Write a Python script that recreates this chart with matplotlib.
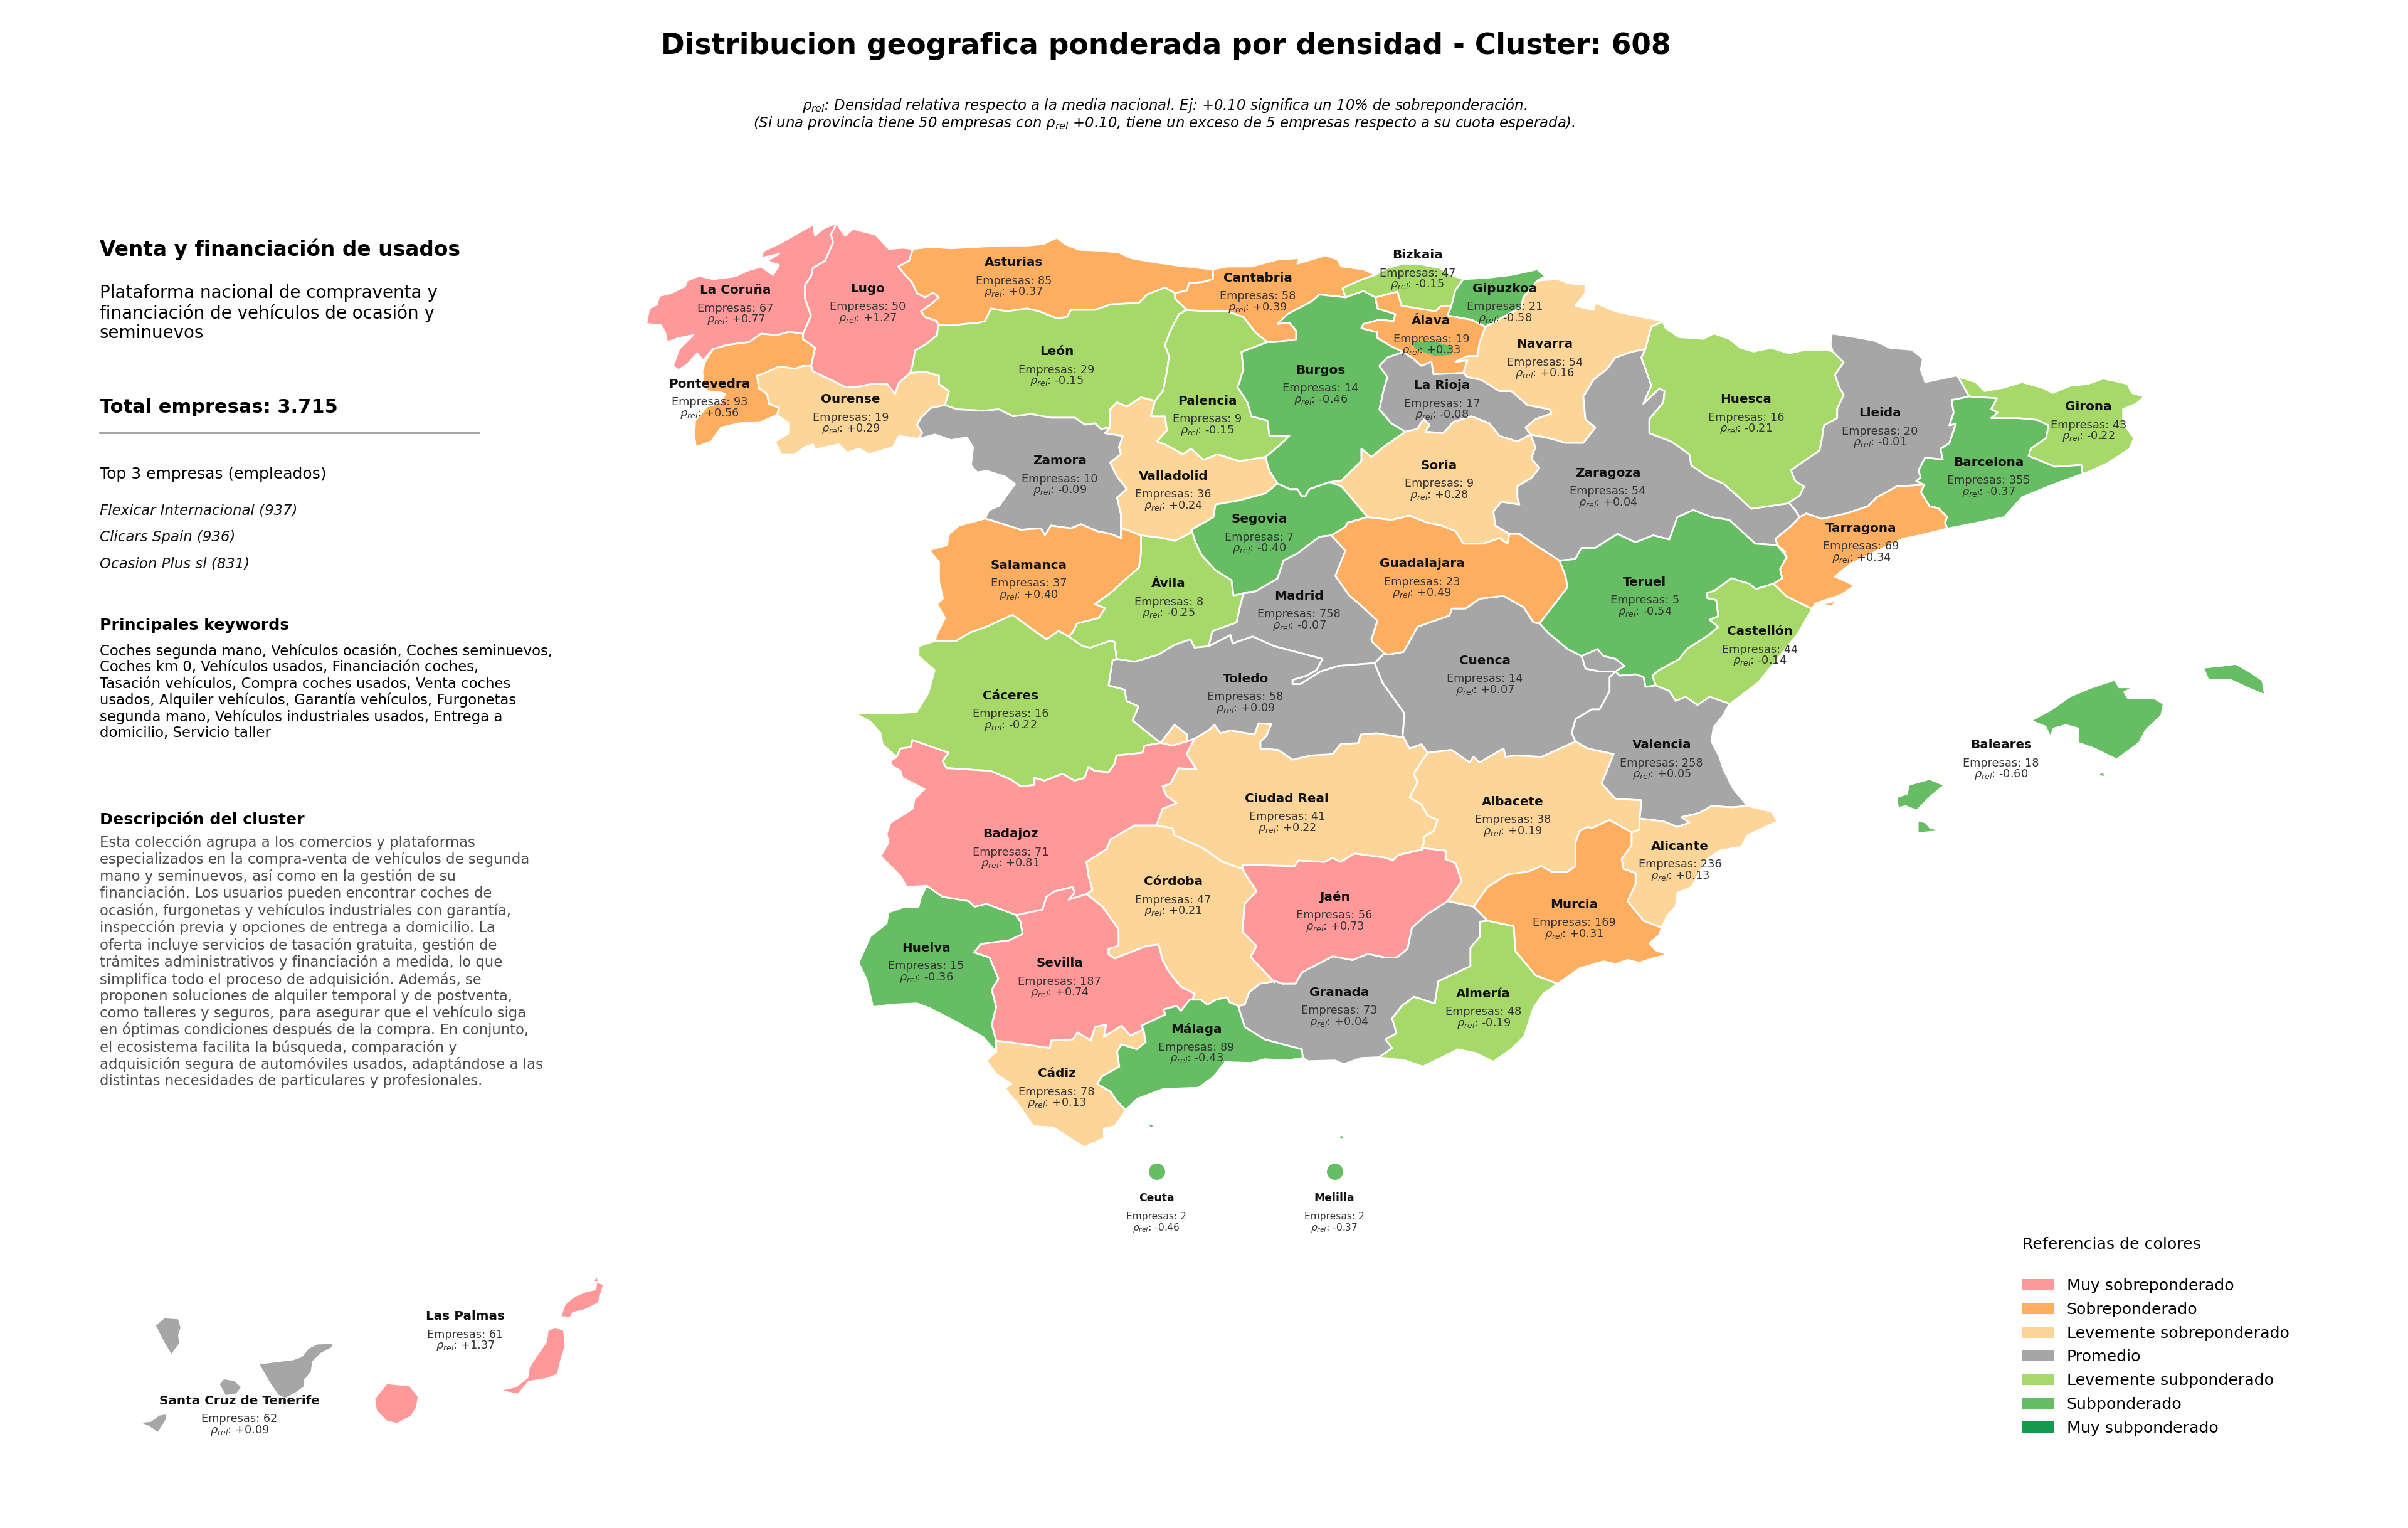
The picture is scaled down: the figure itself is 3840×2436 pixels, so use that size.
import matplotlib
matplotlib.use('Agg')
import matplotlib.pyplot as plt
from matplotlib.patches import Polygon, Circle, Patch


def crop(x0, y0, sx, sy):
    return lambda pts: [(x0 + x / sx, y0 + y / sy) for x, y in pts]


z1 = crop(1000, 320, 1.568, 2.24)
z2 = crop(1900, 320, 1.568, 2.24)
z3 = crop(2600, 480, 1.4255, 1.742)
z4 = crop(1350, 950, 1.568, 2.24)
z5 = crop(2200, 950, 1.568, 2.24)
z6 = crop(1350, 1400, 1.4255, 2.529)
z7 = crop(200, 2000, 1.845, 3)

TITLE = 'Distribucion geografica ponderada por densidad - Cluster: 608'
NOTE_1 = r'$\rho_{rel}$: Densidad relativa respecto a la media nacional. Ej: +0.10 significa un 10% de sobreponderación.'
NOTE_2 = r'(Si una provincia tiene 50 empresas con $\rho_{rel}$ +0.10, tiene un exceso de 5 empresas respecto a su cuota esperada).'

PROVINCES = ['La Coruña', 'Lugo', 'Asturias', 'Cantabria', 'Bizkaia', 'Gipuzkoa', 'Álava', 'Navarra',
             'Pontevedra', 'Ourense', 'León', 'Palencia', 'Burgos', 'La Rioja', 'Huesca', 'Lleida',
             'Girona', 'Zamora', 'Soria', 'Zaragoza', 'Barcelona', 'Valladolid', 'Segovia', 'Salamanca',
             'Ávila', 'Madrid', 'Guadalajara', 'Teruel', 'Tarragona', 'Castellón', 'Cáceres', 'Toledo',
             'Cuenca', 'Baleares', 'Valencia', 'Badajoz', 'Ciudad Real', 'Albacete', 'Alicante', 'Córdoba',
             'Jaén', 'Murcia', 'Huelva', 'Sevilla', 'Granada', 'Almería', 'Málaga', 'Cádiz',
             'Ceuta', 'Melilla', 'Las Palmas', 'Santa Cruz de Tenerife']
EMPRESAS = [67, 50, 85, 58, 47, 21, 19, 54, 93, 19, 29, 9, 14, 17, 16, 20, 43, 10, 9, 54, 355, 36, 7, 37,
            8, 758, 23, 5, 69, 44, 16, 58, 14, 18, 258, 71, 41, 38, 236, 47, 56, 169, 15, 187, 73, 48, 89, 78,
            2, 2, 61, 62]
RHO = [0.77, 1.27, 0.37, 0.39, -0.15, -0.58, 0.33, 0.16, 0.56, 0.29, -0.15, -0.15, -0.46, -0.08, -0.21, -0.01,
       -0.22, -0.09, 0.28, 0.04, -0.37, 0.24, -0.40, 0.40, -0.25, -0.07, 0.49, -0.54, 0.34, -0.14, -0.22, 0.09,
       0.07, -0.60, 0.05, 0.81, 0.22, 0.19, 0.13, 0.21, 0.73, 0.31, -0.36, 0.74, 0.04, -0.19, -0.43, 0.13,
       -0.46, -0.37, 1.37, 0.09]
LABEL_X = [479, 565, 660, 819, 923, 980, 932, 1006, 462, 554, 688, 786, 860, 939, 1137, 1224,
           1360, 690, 937, 1047, 1295, 764, 820, 670, 761, 846, 926, 1071, 1212, 1146, 658, 811,
           967, 1303, 1082, 658, 838, 985, 1094, 764, 869, 1025, 603, 690, 872, 966, 779, 688,
           753, 869, 303, 156]
LABEL_Y = [189, 188, 171, 181, 166, 188, 209, 224, 250, 260, 229, 261, 241, 251, 260, 269,
           265, 300, 303, 308, 301, 310, 338, 368, 380, 388, 367, 379, 344, 411, 453, 442,
           430, 485, 485, 543, 520, 522, 551, 574, 584, 589, 617, 627, 646, 647, 670, 699,
           780, 780, 857, 912]

CATEGORIES = ['Muy sobreponderado', 'Sobreponderado', 'Levemente sobreponderado', 'Promedio',
              'Levemente subponderado', 'Subponderado', 'Muy subponderado']
CATEGORY_COLORS = ['#ff9999', '#fdae61', '#fed598', '#a6a6a6', '#a6d96a', '#66bd63', '#1a9850']
CATEGORY_MIN_RHO = [0.7, 0.3, 0.1, -0.1, -0.3, -0.7, -99]

CLUSTER_NAME = 'Venta y financiación de usados'
CLUSTER_TAGLINE = 'Plataforma nacional de compraventa y\nfinanciación de vehículos de ocasión y\nseminuevos'
TOTAL_LABEL = 'Total empresas: 3.715'
TOP_COMPANIES = ['Flexicar Internacional (937)', 'Clicars Spain (936)', 'Ocasion Plus sl (831)']
KEYWORDS = ('Coches segunda mano, Vehículos ocasión, Coches seminuevos,\n'
            'Coches km 0, Vehículos usados, Financiación coches,\n'
            'Tasación vehículos, Compra coches usados, Venta coches\n'
            'usados, Alquiler vehículos, Garantía vehículos, Furgonetas\n'
            'segunda mano, Vehículos industriales usados, Entrega a\n'
            'domicilio, Servicio taller')
DESCRIPTION = ('Esta colección agrupa a los comercios y plataformas\n'
               'especializados en la compra-venta de vehículos de segunda\n'
               'mano y seminuevos, así como en la gestión de su\n'
               'financiación. Los usuarios pueden encontrar coches de\n'
               'ocasión, furgonetas y vehículos industriales con garantía,\n'
               'inspección previa y opciones de entrega a domicilio. La\n'
               'oferta incluye servicios de tasación gratuita, gestión de\n'
               'trámites administrativos y financiación a medida, lo que\n'
               'simplifica todo el proceso de adquisición. Además, se\n'
               'proponen soluciones de alquiler temporal y de postventa,\n'
               'como talleres y seguros, para asegurar que el vehículo siga\n'
               'en óptimas condiciones después de la compra. En conjunto,\n'
               'el ecosistema facilita la búsqueda, comparación y\n'
               'adquisición segura de automóviles usados, adaptándose a las\n'
               'distintas necesidades de particulares y profesionales.')

# province borders, each one written once and shared by the two provinces on it
ARCS = {
    'coast_cor': z1([(525, 78), (490, 100), (470, 125), (465, 85), (440, 105), (410, 130), (385, 150), (340, 180),
                     (335, 205), (380, 190), (350, 215), (380, 230), (365, 265), (335, 235), (300, 250), (270, 270),
                     (215, 280), (180, 268), (150, 285), (145, 305), (110, 330), (80, 340), (75, 370), (55, 385),
                     (48, 440), (85, 445), (95, 470), (100, 505), (130, 490), (165, 480), (130, 530), (115, 590),
                     (128, 605), (150, 585), (175, 545), (190, 570), (215, 530)]),
    'cor_pon': z1([(215, 530), (250, 515), (305, 505), (335, 475), (375, 480), (405, 468), (440, 475)]),
    'cor_lug': z1([(525, 78), (510, 120), (515, 150), (495, 215), (465, 240), (460, 270), (445, 300), (445, 350),
                   (460, 410), (440, 475)]),
    'coast_lug': z1([(525, 78), (530, 95), (545, 125), (565, 100), (590, 110), (620, 120), (640, 150), (655, 172),
                     (690, 168), (715, 172)]),
    'lug_ast': z1([(715, 172), (705, 215), (678, 235), (695, 265), (712, 290), (725, 330), (745, 345), (765, 328),
                   (780, 345), (760, 370), (735, 395), (745, 415), (775, 430), (778, 445)]),
    'lug_leo': z1([(778, 445), (775, 480), (750, 510), (720, 535), (715, 580), (708, 615)]),
    'lug_pon': z1([(440, 475), (440, 495), (470, 525), (460, 590)]),
    'lug_our': z1([(460, 590), (465, 610), (510, 640), (545, 665), (575, 665), (610, 655), (650, 655), (670, 690),
                   (680, 650), (708, 615)]),
    'pon_our': z1([(460, 590), (440, 590), (420, 600), (380, 592), (345, 615), (325, 625), (330, 670), (350, 690),
                   (355, 725), (380, 740), (375, 765)]),
    'coast_pon': z1([(215, 530), (195, 575), (188, 610), (190, 640), (200, 680), (235, 685), (245, 690), (235, 720),
                     (200, 735), (170, 785), (168, 840), (172, 880), (210, 860), (235, 810), (280, 795), (335, 790),
                     (375, 765)]),
    'south_our': z1([(375, 765), (405, 795), (405, 830), (370, 860), (385, 905), (420, 905), (445, 880), (465, 870),
                     (470, 888), (530, 870), (550, 900), (580, 885), (605, 905), (665, 880), (680, 840), (728, 850)]),
    'our_leo': z1([(708, 615), (745, 610), (780, 625), (780, 655), (805, 680), (795, 730)]),
    'our_zam': z1([(795, 730), (760, 740), (735, 775), (725, 800), (738, 830), (728, 850)]),
    'coast_ast': z1([(715, 172), (760, 165), (810, 170), (870, 165), (940, 160), (1000, 160), (1040, 155), (1075, 132),
                     (1095, 155), (1130, 175), (1180, 178), (1230, 185), (1260, 205), (1320, 220), (1380, 232),
                     (1430, 240), (1465, 245)]),
    'ast_can': z1([(1465, 245), (1465, 280), (1440, 290), (1405, 295), (1400, 320), (1370, 330)]),
    'ast_leo': z1([(778, 445), (810, 445), (880, 435), (895, 430), (910, 385), (950, 395), (1000, 385), (1030, 395),
                   (1075, 420), (1100, 415), (1110, 390), (1170, 390), (1210, 370), (1280, 365), (1300, 335),
                   (1345, 310), (1370, 330)]),
    'leo_can': z1([(1370, 330), (1370, 350), (1400, 390)]),
    'leo_pal': z1([(1400, 390), (1380, 405), (1360, 460), (1345, 515), (1355, 555), (1350, 610), (1340, 680),
                   (1320, 715)]),
    'leo_val': z1([(1320, 715), (1285, 702), (1250, 735), (1225, 720), (1208, 745), (1208, 810)]),
    'leo_zam': z1([(795, 730), (825, 745), (890, 750), (930, 745), (965, 770), (1010, 762), (1060, 775), (1120, 775),
                   (1145, 800), (1170, 795), (1185, 815), (1208, 810)]),
    'zam_val': z1([(1208, 810), (1195, 830), (1240, 840), (1230, 880), (1235, 905), (1208, 935), (1225, 985),
                   (1250, 1030), (1225, 1060), (1235, 1120), (1235, 1170)]),
    'zam_wes': z1([(728, 850), (770, 835), (810, 855), (850, 845), (865, 880), (860, 945), (875, 970), (900, 965),
                   (945, 985), (970, 1012), (950, 1050), (930, 1090), (905, 1105), (895, 1135)]),
    'zam_sal': z1([(895, 1135), (930, 1150), (985, 1175), (1035, 1170), (1045, 1195), (1060, 1160), (1110, 1170),
                   (1135, 1155), (1175, 1180), (1210, 1190), (1235, 1205), (1235, 1170)]),
    'sal_wes': z1([(895, 1135), (830, 1160), (805, 1190), (800, 1230), (755, 1248), (780, 1290), (780, 1360),
                   (790, 1420), (775, 1440), (795, 1490), (772, 1555)]),
    'sal_vall': z1([(1235, 1170), (1250, 1175), (1285, 1195)]),
    'sal_avi': z1([(1285, 1195), (1285, 1260), (1280, 1310), (1240, 1360), (1210, 1400), (1170, 1440), (1195, 1455),
                   (1180, 1490), (1125, 1510), (1115, 1540), (1103, 1560)]),
    'sal_cac': z4([(555, 145), (530, 125), (500, 155), (470, 125), (415, 68), (350, 110), (310, 130), (275, 160),
                   (222, 160)]),
    'val_avi': z1([(1285, 1195), (1340, 1205), (1370, 1215), (1410, 1185)]),
    'val_seg': z2([(0, 1175), (55, 1130), (60, 1085), (120, 1070), (185, 1045), (215, 1010)]),
    'val_pal': z1([(1320, 715), (1310, 770), (1345, 770), (1350, 820), (1325, 860), (1345, 870), (1390, 905),
                   (1410, 885)]) + z2([(30, 925), (65, 905), (120, 930), (185, 915)]),
    'val_bur': z2([(185, 915), (195, 965), (215, 1010)]),
    'pal_can': z1([(1400, 390)]) + z2([(40, 395), (90, 395), (130, 415), (160, 470), (190, 505)]),
    'pal_bur': z2([(190, 505), (125, 540), (130, 600), (120, 650), (115, 665), (140, 720), (150, 770), (190, 785),
                   (195, 840), (245, 840), (215, 880), (185, 915)]),
    'coast_can': z2([(53, 245), (90, 235), (150, 235), (215, 210), (270, 205), (265, 225), (335, 195), (365, 210),
                     (375, 235), (430, 245), (460, 265)]),
    'can_biz': z2([(460, 265), (425, 282), (378, 312), (385, 345)]),
    'can_bur': z2([(385, 345), (320, 335), (300, 360), (240, 405), (215, 440), (245, 435), (262, 465), (262, 495),
                   (210, 505), (190, 505)]),
    'bur_biz': z2([(385, 345), (430, 322), (460, 345)]),
    'bur_ala': z2([(460, 345), (465, 385), (510, 405), (505, 430), (470, 425), (430, 440), (425, 455), (465, 470),
                   (465, 490), (500, 520), (530, 540)]),
    'bur_rio': z2([(530, 540), (490, 560), (470, 590), (490, 630), (480, 680), (470, 745), (500, 795), (535, 825)]),
    'bur_sor': z2([(535, 825), (480, 880), (450, 915), (425, 885), (425, 930), (375, 1000), (345, 1005)]),
    'bur_seg': z2([(215, 1010), (245, 1030), (265, 1030), (275, 1055), (285, 1055), (295, 1030), (345, 1005)]),
    'biz_ala': z2([(460, 345), (515, 325), (525, 375), (610, 395), (625, 375), (650, 375)]),
    'biz_gip': z2([(680, 280), (660, 320), (650, 375)]),
    'coast_biz': z2([(460, 265), (490, 240), (530, 225), (565, 225), (620, 240), (650, 265), (680, 280)]),
    'coast_gip': z2([(680, 280), (740, 275), (800, 265), (865, 245), (885, 270), (865, 285)]),
    'gip_nav': z2([(865, 285), (830, 345), (825, 380), (735, 450)]),
    'gip_ala': z2([(650, 375), (640, 410), (700, 425), (735, 450)]),
    'ala_nav': z2([(735, 450), (720, 510), (715, 555), (690, 555), (660, 575), (690, 570), (680, 615)]),
    'ala_rio': z2([(680, 615), (605, 620), (600, 575), (575, 590), (555, 565), (530, 540)]),
    'coast_nav': z2([(865, 285), (915, 280), (945, 295), (985, 300), (985, 330), (960, 375), (1005, 390), (1010, 365),
                     (1060, 395), (1110, 410), (1180, 430)]),
    'nav_hue': z2([(1180, 430), (1150, 450), (1135, 530)]),
    'nav_zar': z2([(1135, 530), (1100, 540), (1060, 560), (1040, 600), (1005, 640), (980, 700), (985, 780), (1010, 810),
                   (980, 865), (935, 865), (900, 850), (848, 835)]),
    'nav_rio': z2([(680, 615), (690, 630), (725, 640), (770, 680), (800, 680), (840, 730), (895, 745), (900, 760),
                   (860, 780), (835, 810), (848, 835)]),
    'rio_sor': z2([(535, 825), (565, 815), (580, 780), (595, 800), (585, 825), (630, 830), (655, 790), (700, 770),
                   (745, 795), (770, 840), (815, 860), (848, 835)]),
    'sor_zar': z2([(848, 835), (860, 880), (850, 920), (870, 955), (850, 990), (815, 1020), (815, 1060), (820, 1085),
                   (775, 1075), (755, 1110), (760, 1160), (795, 1190)]),
    'sor_gua': z2([(440, 1130), (500, 1140), (545, 1125), (590, 1150), (625, 1160), (660, 1180), (680, 1225),
                   (730, 1225), (770, 1205), (790, 1225), (795, 1190)]),
    'sor_seg': z2([(345, 1005), (375, 1020), (405, 1070), (440, 1130)]),
    'seg_gua': z2([(440, 1130), (390, 1150), (385, 1165), (350, 1195)]),
    'seg_mad': z2([(350, 1195), (320, 1200), (265, 1260), (230, 1285), (215, 1350), (160, 1395)]),
    'seg_avi': z2([(160, 1395), (105, 1410), (100, 1355), (60, 1320), (25, 1265), (10, 1220), (0, 1175)]),
    'avi_mad': z2([(160, 1395), (130, 1400), (125, 1430)]) + z4([(985, 30), (975, 95), (915, 125), (905, 180)]),
    'zar_gua': z2([(795, 1190), (820, 1190), (860, 1230), (920, 1285)]),
    'zar_ter': z2([(920, 1285), (960, 1280), (975, 1240), (1010, 1240), (1065, 1190), (1110, 1220), (1155, 1195),
                   (1195, 1210), (1215, 1130), (1255, 1105), (1300, 1130), (1345, 1140), (1410, 1225), (1465, 1230),
                   (1485, 1255)]),
    'zar_tar': z3([(335, 680), (330, 660), (365, 625), (385, 600)]),
    'zar_lle': z2([(1495, 1080), (1510, 1105), (1521, 1131)]),
    'hue_zar': z2([(1135, 530), (1125, 560), (1140, 620), (1150, 660), (1130, 725), (1170, 670), (1183, 680),
                   (1180, 720), (1145, 780), (1145, 830), (1200, 860), (1245, 905), (1250, 945), (1290, 985),
                   (1330, 1010), (1370, 1060), (1400, 1100), (1495, 1080)]),
    'coast_hue': z3([(75, 60), (80, 75), (110, 100), (165, 105), (190, 90), (225, 105), (250, 130), (280, 140),
                     (320, 130), (360, 145), (400, 135), (445, 135), (460, 140)]),
    'hue_lle': z3([(460, 140), (485, 170), (465, 205), (475, 240), (485, 260), (470, 300), (470, 325), (440, 345),
                   (435, 385), (430, 415), (400, 440), (365, 470), (375, 500), (395, 515), (385, 540), (360, 560)]),
    'lle_nor': z3([(460, 140), (455, 120), (458, 90), (510, 100), (555, 110), (590, 130), (640, 135), (665, 160),
                   (660, 190), (670, 225), (740, 207), (745, 210)]),
    'lle_gir': z3([(745, 210), (770, 265)]),
    'lle_bar': z3([(770, 265), (730, 275), (735, 310), (725, 345), (740, 340), (725, 395), (705, 410), (710, 440),
                   (670, 435), (655, 470), (660, 490), (650, 500), (668, 510)]),
    'lle_tar': z3([(668, 510), (605, 515), (560, 545), (540, 570), (490, 590), (435, 605), (400, 590), (385, 600)]),
    'gir_nor': z3([(745, 210), (785, 225), (805, 250), (850, 240), (890, 225), (935, 240), (960, 255), (1000, 235),
                   (1040, 230), (1075, 215), (1130, 230), (1140, 255), (1168, 265), (1150, 285), (1120, 300),
                   (1120, 340), (1145, 380), (1135, 410), (1085, 450), (1040, 475), (1028, 480)]),
    'gir_bar': z3([(770, 265), (833, 270), (820, 300), (835, 310), (820, 325), (880, 325), (925, 330), (950, 345),
                   (945, 380), (910, 410), (905, 430), (965, 460), (1025, 455), (1028, 480)]),
    'coast_bar': z3([(1028, 480), (960, 510), (890, 545), (850, 600), (790, 615), (720, 632)]),
    'bar_tar': z3([(668, 510), (660, 530), (680, 570), (700, 575), (720, 600), (715, 615), (720, 632)]),
    'coast_tar': z3([(720, 632), (660, 650), (620, 660), (550, 700), (500, 730), (465, 765), (510, 790), (480, 815),
                     (420, 840), (413, 855)]),
    'tar_cas': z3([(413, 855), (355, 820), (325, 785)]),
    'tar_ter': z3([(325, 785), (345, 770), (340, 745), (355, 710), (335, 680)]),
    'gua_ter': z2([(920, 1285), (935, 1340), (940, 1380), (870, 1510)]),
    'ter_cas': z3([(325, 785), (285, 800), (270, 785), (230, 770), (190, 805), (175, 810), (175, 825), (195, 830),
                   (200, 875), (180, 885), (200, 905), (175, 930), (130, 965), (110, 995), (65, 1025), (50, 1040),
                   (58, 1068)]),
    'ter_val': z5([(590, 270), (600, 285), (640, 280), (660, 290), (665, 325), (690, 320)]),
    'ter_exc': z5([(505, 215), (545, 190), (560, 215), (590, 225), (612, 250), (590, 270)]),
    'cue_exc': z5([(505, 215), (515, 260), (550, 270), (590, 270)]),
    'ter_cue': z5([(400, 98), (420, 130), (470, 190), (505, 215)]),
    'cas_val': z5([(690, 320), (725, 340), (740, 375), (765, 360), (795, 390), (825, 360), (875, 385)]),
    'coast_cas': z3([(413, 855), (380, 925), (330, 1000), (290, 1060), (225, 1120)]),
    'coast_val': z5([(875, 385), (860, 425), (835, 470), (830, 520), (850, 575), (860, 620), (885, 690), (920, 750)]),
    'val_ali': z5([(920, 750), (880, 755), (830, 750), (800, 775), (755, 790), (775, 810), (745, 825), (710, 805),
                   (650, 795)]),
    'val_alb': z5([(650, 795), (655, 730), (590, 725), (555, 670), (585, 565), (520, 545), (490, 520)]),
    'val_cue': z5([(490, 520), (480, 490), (490, 440), (530, 405), (550, 405), (575, 340), (575, 290), (590, 270)]),
    'cue_alb': z5([(490, 520), (405, 575), (340, 570), (315, 575), (310, 545), (250, 595), (235, 575), (225, 595),
                   (180, 550), (120, 560)]),
    'cue_cr': z5([(60, 505), (75, 545), (105, 530), (120, 560)]),
    'gua_cue': z5([(400, 98), (385, 95), (360, 40), (310, 0), (250, 10), (215, 45), (180, 45), (175, 70), (125, 95),
                   (95, 110), (60, 200), (20, 210)]),
    'gua_mad': z2([(350, 1195), (385, 1250), (360, 1340), (395, 1410), (420, 1440), (465, 1500), (450, 1568)])
               + z4([(1315, 165), (1345, 205)]),
    'mad_cue': z4([(1345, 205), (1320, 240)]),
    'cue_tol': z4([(1320, 240), (1340, 310), (1395, 420), (1390, 505)]),
    'mad_tol': z4([(905, 180), (960, 140), (965, 170), (1015, 145), (1070, 180), (1110, 195), (1150, 210), (1190, 225),
                   (1175, 265), (1150, 285), (1115, 300), (1115, 315), (1135, 315), (1185, 270), (1230, 250),
                   (1320, 240)]),
    'avi_tol': z4([(905, 180), (870, 185), (860, 155), (820, 175), (780, 210), (720, 235), (675, 225)]),
    'avi_cac': z4([(555, 145), (590, 180), (610, 185), (660, 160), (670, 165), (675, 225)]),
    'tol_cac': z4([(675, 225), (665, 230), (655, 320), (695, 335), (700, 375), (730, 395), (715, 445), (785, 525)]),
    'tol_enc': z4([(785, 525), (820, 460), (852, 495), (850, 520)]),
    'bad_enc': z4([(850, 520), (815, 535), (785, 525)]),
    'tol_bad': z4([(850, 520), (870, 510)]),
    'tol_cr': z4([(870, 510), (905, 480), (920, 460), (935, 490), (960, 480), (1020, 495), (1030, 455), (1062, 458),
                  (1050, 500), (1035, 520), (1035, 545), (1080, 550), (1115, 585), (1160, 570), (1215, 565),
                  (1235, 530), (1280, 525), (1285, 495), (1325, 490), (1390, 505)]),
    'bad_cr': z4([(870, 510), (850, 565), (875, 620), (830, 615), (810, 670), (790, 680), (800, 715), (825, 740),
                  (790, 760), (775, 820)]),
    'cor_cr': z4([(775, 820), (815, 830), (820, 855), (890, 900), (940, 950), (990, 975)]),
    'jae_cr': z4([(990, 975), (990, 960), (1120, 965), (1130, 945), (1195, 950), (1215, 935), (1235, 950), (1270, 920),
                  (1350, 935), (1365, 945), (1380, 925), (1440, 905)]),
    'alb_cr': z5([(120, 560), (85, 635), (95, 665), (75, 720), (105, 745), (120, 785), (145, 800), (135, 840),
                  (110, 860), (110, 885), (105, 900)]),
    'alb_jae': z5([(105, 900), (165, 910), (165, 940), (190, 955), (205, 1020), (170, 1090)]),
    'alb_gra': z5([(170, 1090), (235, 1110)]),
    'alb_mur': z5([(235, 1110), (270, 1040), (320, 995), (370, 985), (405, 965), (430, 985), (470, 985), (490, 965),
                   (490, 880), (500, 840), (520, 825), (530, 830), (575, 800), (630, 845)]),
    'alb_ali': z5([(630, 845), (650, 835), (650, 795)]),
    'ali_mur': z5([(630, 845), (630, 890), (605, 940), (610, 975), (640, 990), (640, 1030), (620, 1090), (660, 1160),
                   (705, 1185)]),
    'coast_ali': z5([(920, 750), (980, 770), (995, 805), (950, 835), (920, 855), (905, 895), (850, 910), (815, 945),
                     (795, 1000), (780, 1040), (745, 1060), (740, 1110), (720, 1140), (705, 1185)]),
    'coast_mur': z5([(705, 1185), (700, 1210), (675, 1240), (690, 1265), (720, 1280), (670, 1300), (650, 1310),
                     (620, 1300), (590, 1315), (560, 1305), (500, 1330), (445, 1385)]),
    'mur_alm': z5([(445, 1385), (390, 1355), (340, 1270), (335, 1180), (270, 1160)]),
    'mur_gra': z5([(235, 1110), (270, 1160)]),
    'alm_gra': z6([(1456, 172), (1440, 175), (1440, 235), (1418, 280), (1418, 355), (1345, 415), (1337, 505),
                   (1290, 478), (1262, 515), (1240, 565), (1250, 625), (1225, 650), (1240, 685), (1210, 722)]),
    'coast_alm': z6([(1210, 722), (1270, 735), (1310, 760), (1350, 725), (1390, 690), (1430, 705), (1470, 740),
                     (1510, 690), (1540, 640)]) + z5([(385, 1470), (410, 1420), (445, 1385)]),
    'gra_jae': z6([(1365, 94), (1320, 145), (1285, 200), (1275, 285), (1250, 320), (1225, 320), (1185, 305),
                   (1150, 330), (1105, 315), (1035, 380), (1020, 425), (990, 425), (975, 415)]),
    'jae_cor': z4([(990, 975), (1000, 1000), (1025, 1055), (995, 1100), (990, 1200), (1025, 1250), (1010, 1290),
                   (1070, 1380)]),
    'gra_cor': z6([(975, 415), (940, 425), (915, 460), (905, 510), (890, 515)]),
    'cor_mal': z6([(890, 515), (870, 500), (865, 480), (840, 490), (820, 510), (805, 490), (795, 490)]),
    'cor_sev': z4([(600, 1065), (640, 1110), (680, 1190), (680, 1250), (655, 1260), (655, 1280), (670, 1295),
                   (750, 1250), (780, 1245), (790, 1300), (805, 1340), (835, 1395), (870, 1420), (865, 1440)]),
    'cor_bad': z4([(775, 820), (720, 820), (660, 870), (650, 905), (600, 950), (605, 1000), (615, 1050), (600, 1065)]),
    'bad_cac': z4([(785, 525), (745, 535), (740, 560), (675, 570), (670, 600), (655, 630), (620, 625), (605, 610),
                   (595, 650), (570, 660), (540, 635), (495, 660), (470, 650), (470, 675), (435, 680), (410, 655),
                   (360, 625), (305, 620), (250, 615), (240, 590), (255, 560), (235, 550), (165, 515), (160, 540),
                   (135, 545), (125, 575)]),
    'bad_wes': z4([(125, 575), (110, 590), (112, 605), (135, 625), (140, 650), (195, 690), (170, 725), (165, 760),
                   (110, 810), (100, 850), (105, 880), (85, 930), (135, 1000), (150, 1040), (200, 1035)]),
    'bad_hue': z4([(200, 1035), (240, 1075), (305, 1090), (320, 1110), (350, 1100), (415, 1135), (425, 1140)]),
    'bad_sev': z4([(425, 1140), (490, 1120), (500, 1075), (520, 1055), (565, 1040), (570, 1060), (555, 1085),
                   (600, 1065)]),
    'cac_wes': z4([(222, 160), (180, 180), (180, 215), (220, 265), (205, 345), (175, 415), (100, 420), (22, 420),
                   (60, 450), (85, 490), (90, 530), (125, 575)]),
    'hue_wes': z4([(200, 1035), (185, 1080), (180, 1110), (145, 1110), (105, 1130), (100, 1170), (60, 1215), (30, 1310),
                   (50, 1370)]) + z6([(60, 520), (100, 510), (160, 505), (190, 525), (250, 580), (310, 640),
                                      (340, 700)]),
    'hue_sev': z6([(385, 150), (395, 175), (400, 225), (370, 250), (305, 265), (290, 300), (325, 320), (345, 405),
                   (330, 450), (340, 520), (330, 590), (340, 655)]),
    'hue_cad': z6([(340, 655), (340, 700)]),
    'cad_sev': z6([(340, 655), (385, 665), (462, 685), (465, 655), (515, 650), (525, 622), (555, 655), (565, 600),
                   (590, 590), (585, 640), (625, 595), (645, 635), (675, 610)]),
    'mal_sev': z6([(675, 610), (670, 595), (725, 550), (720, 530), (750, 515), (760, 535), (780, 490), (795, 490)]),
    'mal_cad': z6([(675, 610), (680, 660), (660, 690), (625, 670), (615, 700), (620, 760), (580, 800), (570, 830),
                   (600, 860), (615, 900), (635, 935)]),
    'coast_cad': z6([(340, 700), (318, 735), (340, 790), (375, 830), (360, 845), (370, 870), (385, 900), (425, 1000),
                     (470, 1005), (540, 1085), (585, 1050), (585, 1010), (610, 1000), (635, 935)]),
    'coast_mal': z6([(1037, 725), (1000, 735), (950, 730), (920, 745), (860, 742), (835, 800), (800, 845), (720, 850),
                     (660, 890), (635, 935)]),
    'gra_mal': z6([(890, 515), (905, 600), (950, 650), (1035, 690), (1037, 725)]),
    'coast_gra': z6([(1037, 725), (1050, 738), (1110, 735), (1130, 750), (1170, 725), (1210, 722)]),
}

# arcs around each province, a list per separate piece
PROVINCE_ARCS = {
    'La Coruña': [['coast_cor', 'cor_pon', 'cor_lug']],
    'Lugo': [['cor_lug', 'lug_pon', 'lug_our', 'lug_leo', 'lug_ast', 'coast_lug']],
    'Pontevedra': [['coast_pon', 'pon_our', 'lug_pon', 'cor_pon']],
    'Ourense': [['pon_our', 'lug_our', 'our_leo', 'our_zam', 'south_our']],
    'Asturias': [['lug_ast', 'coast_ast', 'ast_can', 'ast_leo']],
    'León': [['lug_leo', 'ast_leo', 'leo_can', 'leo_pal', 'leo_val', 'leo_zam', 'our_leo']],
    'Zamora': [['our_zam', 'leo_zam', 'zam_val', 'zam_sal', 'zam_wes']],
    'Salamanca': [['zam_sal', 'sal_vall', 'sal_avi', 'sal_cac', 'sal_wes']],
    'Valladolid': [['leo_val', 'val_pal', 'val_bur', 'val_seg', 'val_avi', 'sal_vall', 'zam_val']],
    'Palencia': [['leo_pal', 'pal_can', 'pal_bur', 'val_pal']],
    'Cantabria': [['ast_can', 'coast_can', 'can_biz', 'can_bur', 'pal_can', 'leo_can']],
    'Burgos': [['can_bur', 'bur_biz', 'bur_ala', 'bur_rio', 'bur_sor', 'bur_seg', 'val_bur', 'pal_bur']],
    'Bizkaia': [['can_biz', 'coast_biz', 'biz_gip', 'biz_ala', 'bur_biz']],
    'Gipuzkoa': [['biz_gip', 'coast_gip', 'gip_nav', 'gip_ala']],
    'Álava': [['bur_ala', 'biz_ala', 'gip_ala', 'ala_nav', 'ala_rio']],
    'Navarra': [['gip_nav', 'coast_nav', 'nav_hue', 'nav_zar', 'nav_rio', 'ala_nav']],
    'La Rioja': [['bur_rio', 'ala_rio', 'nav_rio', 'rio_sor']],
    'Soria': [['bur_sor', 'rio_sor', 'sor_zar', 'sor_gua', 'sor_seg']],
    'Segovia': [['val_seg', 'bur_seg', 'sor_seg', 'seg_gua', 'seg_mad', 'seg_avi']],
    'Zaragoza': [['nav_zar', 'hue_zar', 'zar_lle', 'zar_tar', 'zar_ter', 'zar_gua', 'sor_zar']],
    'Huesca': [['nav_hue', 'coast_hue', 'hue_lle', 'hue_zar']],
    'Lleida': [['hue_lle', 'lle_nor', 'lle_gir', 'lle_bar', 'lle_tar', 'zar_lle']],
    'Girona': [['lle_gir', 'gir_nor', 'gir_bar']],
    'Barcelona': [['lle_bar', 'gir_bar', 'coast_bar', 'bar_tar']],
    'Tarragona': [['lle_tar', 'bar_tar', 'coast_tar', 'tar_cas', 'tar_ter', 'zar_tar']],
    'Teruel': [['zar_ter', 'tar_ter', 'ter_cas', 'ter_val', 'ter_exc', 'ter_cue', 'gua_ter']],
    'Castellón': [['tar_cas', 'coast_cas', 'cas_val', 'ter_cas']],
    'Valencia': [['ter_val', 'cas_val', 'coast_val', 'val_ali', 'val_alb', 'val_cue'], ['ter_exc', 'cue_exc']],
    'Cuenca': [['val_cue', 'cue_exc', 'ter_cue', 'gua_cue', 'mad_cue', 'cue_tol', 'cue_cr', 'cue_alb']],
    'Albacete': [['val_alb', 'alb_ali', 'alb_mur', 'alb_gra', 'alb_jae', 'alb_cr', 'cue_alb']],
    'Alicante': [['val_ali', 'coast_ali', 'ali_mur', 'alb_ali']],
    'Murcia': [['alb_mur', 'ali_mur', 'coast_mur', 'mur_alm', 'mur_gra']],
    'Almería': [['mur_alm', 'coast_alm', 'alm_gra']],
    'Granada': [['alb_gra', 'mur_gra', 'alm_gra', 'coast_gra', 'gra_mal', 'gra_cor', 'gra_jae']],
    'Jaén': [['alb_jae', 'gra_jae', 'jae_cor', 'jae_cr']],
    'Ciudad Real': [['alb_cr', 'jae_cr', 'cor_cr', 'bad_cr', 'tol_cr', 'cue_cr'], ['tol_enc', 'bad_enc']],
    'Madrid': [['seg_mad', 'gua_mad', 'mad_cue', 'mad_tol', 'avi_mad']],
    'Guadalajara': [['seg_gua', 'sor_gua', 'zar_gua', 'gua_ter', 'gua_cue', 'gua_mad']],
    'Ávila': [['val_avi', 'sal_avi', 'avi_cac', 'avi_tol', 'avi_mad', 'seg_avi']],
    'Toledo': [['avi_tol', 'tol_cac', 'tol_enc', 'tol_bad', 'tol_cr', 'cue_tol', 'mad_tol']],
    'Cáceres': [['sal_cac', 'avi_cac', 'tol_cac', 'bad_cac', 'cac_wes']],
    'Badajoz': [['bad_cac', 'bad_enc', 'tol_bad', 'bad_cr', 'cor_bad', 'bad_sev', 'bad_hue', 'bad_wes']],
    'Córdoba': [['cor_bad', 'cor_cr', 'jae_cor', 'gra_cor', 'cor_mal', 'cor_sev']],
    'Sevilla': [['bad_sev', 'cor_sev', 'mal_sev', 'cad_sev', 'hue_sev']],
    'Huelva': [['bad_hue', 'hue_sev', 'hue_cad', 'hue_wes']],
    'Cádiz': [['cad_sev', 'mal_cad', 'coast_cad', 'hue_cad']],
    'Málaga': [['mal_sev', 'cor_mal', 'gra_mal', 'coast_mal', 'mal_cad']],
}

# pieces with no shared border: islands and small exclaves
ISLANDS = {
    'Baleares': [
        z3([(915, 1165), (960, 1135), (1000, 1100), (1050, 1075), (1100, 1055), (1110, 1075), (1135, 1075), (1120, 1085),
            (1130, 1105), (1190, 1105), (1210, 1120), (1205, 1150), (1170, 1190), (1155, 1225), (1105, 1270),
            (1055, 1240), (1020, 1225), (1020, 1185), (990, 1175), (960, 1185), (955, 1205), (945, 1180)]),
        z3([(1305, 1020), (1345, 1015), (1375, 1010), (1405, 1030), (1435, 1055), (1440, 1090), (1410, 1075),
            (1365, 1050), (1315, 1050)]),
        z3([(607, 1380), (630, 1370), (635, 1345), (680, 1330), (710, 1345), (680, 1375), (650, 1412), (625, 1400),
            (610, 1405)]),
        z3([(655, 1445), (670, 1450), (680, 1465), (700, 1470), (655, 1475)]),
        z3([(1066, 1315), (1075, 1310), (1076, 1319)]),
    ],
    'Santa Cruz de Tenerife': [
        z7([(90, 340), (115, 305), (155, 310), (162, 350), (155, 385), (158, 425), (135, 475), (115, 420)]),
        z7([(395, 525), (420, 520), (495, 505), (520, 490), (540, 450), (565, 430), (610, 428), (605, 445), (575, 470),
            (550, 510), (545, 560), (525, 600), (525, 630), (500, 660), (470, 685), (450, 670), (425, 610)]),
        z7([(278, 620), (290, 597), (320, 605), (340, 635), (325, 665), (295, 672)]),
        z7([(48, 805), (75, 800), (100, 770), (120, 765), (118, 790), (95, 848), (70, 820)]),
    ],
    'Las Palmas': [
        z7([(735, 690), (770, 620), (800, 625), (835, 630), (860, 680), (855, 730), (840, 770), (800, 805), (770, 795),
            (740, 745)]),
        z7([(1245, 365), (1265, 350), (1288, 365), (1292, 440), (1280, 500), (1270, 570), (1240, 590), (1185, 605),
            (1155, 665), (1110, 650), (1150, 635), (1185, 590), (1190, 540), (1210, 490), (1240, 420)]),
        z7([(1283, 295), (1295, 240), (1320, 205), (1355, 180), (1385, 170), (1388, 135), (1405, 145), (1400, 170),
            (1390, 230), (1350, 262), (1315, 275), (1308, 298)]),
        z7([(1380, 128), (1386, 108), (1390, 128)]),
    ],
    'Burgos': [z2([(550, 505), (600, 500), (650, 520), (650, 550), (610, 555), (560, 530)])],
    'Tarragona': [z3([(443, 842), (462, 836), (458, 846)])],
    'Ceuta': [z6([(685, 993), (697, 998), (693, 1004)])],
    'Melilla': [z6([(1122, 1045), (1125, 1038), (1129, 1045), (1125, 1052)])],
}

# the two autonomous cities get a dot instead of a shape
CITY_DOTS = {'Ceuta': (1845, 1868), 'Melilla': (2129, 1868)}

REF_SCALE = 3840 / 1568


def categoryColor(rho):
    for color, low in zip(CATEGORY_COLORS, CATEGORY_MIN_RHO):
        if rho >= low:
            return color
    return CATEGORY_COLORS[-1]


def dist(a, b):
    return (a[0] - b[0]) ** 2 + (a[1] - b[1]) ** 2


def buildRing(arcNames):
    # chain arcs end to end, the order and direction in the list don't matter
    left = [ARCS[n] for n in arcNames]
    ring = list(left.pop(0))
    while left:
        best = min(left, key=lambda a: min(dist(ring[-1], a[0]), dist(ring[-1], a[-1])))
        left = [a for a in left if a is not best]
        if dist(ring[-1], best[0]) <= dist(ring[-1], best[-1]):
            ring.extend(best)
        else:
            ring.extend(best[::-1])
    return ring


def drawMap(ax):
    colors = dict(zip(PROVINCES, [categoryColor(r) for r in RHO]))
    for name, rings in PROVINCE_ARCS.items():
        for arcNames in rings:
            ax.add_patch(Polygon(buildRing(arcNames), closed=True, facecolor=colors[name],
                                 edgecolor='white', linewidth=1.0, joinstyle='round'))
    for name, rings in ISLANDS.items():
        for ring in rings:
            ax.add_patch(Polygon(ring, closed=True, facecolor=colors[name], edgecolor='none'))
    for name, center in CITY_DOTS.items():
        ax.add_patch(Circle(center, 13, facecolor=colors[name], edgecolor='none'))


def drawLabels(ax):
    for name, count, rho, x, y in zip(PROVINCES, EMPRESAS, RHO, LABEL_X, LABEL_Y):
        small = name in CITY_DOTS
        px = x * REF_SCALE
        py = y * REF_SCALE
        ax.text(px, py, name, ha='center', va='center', fontsize=6.2 if small else 7.2, fontweight='bold',
                color='#111111', zorder=5)
        ax.text(px, py + 29, f'Empresas: {count}', ha='center', va='center', fontsize=5.6 if small else 6.4,
                color='#333333', zorder=5)
        ax.text(px, py + 47, rf'$\rho_{{rel}}$: {rho:+.2f}', ha='center', va='center',
                fontsize=5.6 if small else 6.4, color='#333333', zorder=5)


def drawPanel(ax):
    left = 159
    ax.text(left, 398, CLUSTER_NAME, fontsize=11.85, fontweight='bold', va='center')
    ax.text(left, 499, CLUSTER_TAGLINE, fontsize=10, va='center', linespacing=1.14)
    ax.text(left, 650, TOTAL_LABEL, fontsize=11, fontweight='bold', va='center')
    ax.plot([left, 763], [690, 690], color='#999999', linewidth=1.0)
    ax.text(left, 756, 'Top 3 empresas (empleados)', fontsize=9, va='center')
    for company, y in zip(TOP_COMPANIES, [814, 857, 899]):
        ax.text(left, y, company, fontsize=8.25, style='italic', va='center', color='#111111')
    ax.text(left, 997, 'Principales keywords', fontsize=9.1, fontweight='bold', va='center')
    ax.text(left, 1103, KEYWORDS, fontsize=8.2, va='center', linespacing=1.15)
    ax.text(left, 1306, 'Descripción del cluster', fontsize=9.1, fontweight='bold', va='center')
    ax.text(left, 1533, DESCRIPTION, fontsize=8.2, va='center', linespacing=1.18, color='#4d4d4d')


def main():
    fig = plt.figure(figsize=(19.2, 12.18), dpi=200)
    ax = fig.add_axes([0, 0, 1, 1])
    ax.set_xlim(0, 3840)
    ax.set_ylim(2436, 0)
    ax.axis('off')

    drawMap(ax)
    drawLabels(ax)
    drawPanel(ax)

    ax.text(1859, 74, TITLE, fontsize=16.4, fontweight='bold', ha='center', va='center')
    ax.text(1857, 168, NOTE_1, fontsize=8.2, style='italic', ha='center', va='center')
    ax.text(1857, 197, NOTE_2, fontsize=8.2, style='italic', ha='center', va='center')

    handles = [Patch(facecolor=c, edgecolor='none', label=l) for c, l in zip(CATEGORY_COLORS, CATEGORIES)]
    ax.legend(handles=handles, title='Referencias de colores\n', title_fontsize=9.1, fontsize=9.1, frameon=False,
              alignment='left', loc='upper left', bbox_to_anchor=(3225, 1972), bbox_transform=ax.transData,
              borderpad=0, borderaxespad=0, labelspacing=0.55)

    fig.savefig('out.png', dpi=200, facecolor='white')
    plt.close(fig)


if __name__ == '__main__':
    main()
